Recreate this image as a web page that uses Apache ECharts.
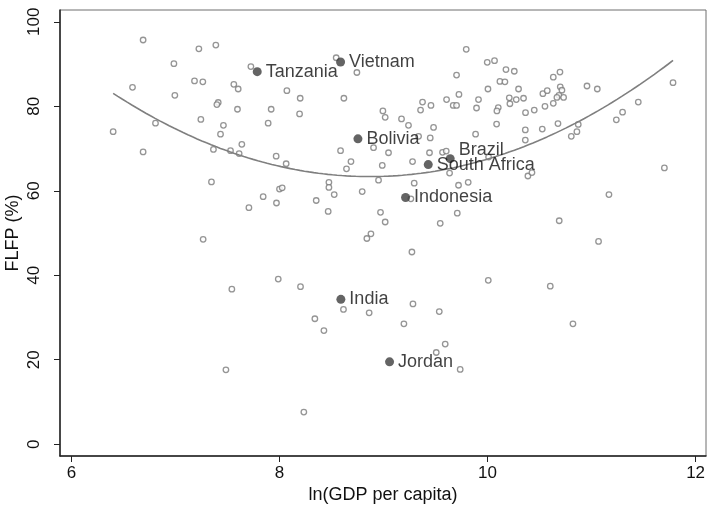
<!DOCTYPE html>
<html>
<head>
<meta charset="utf-8">
<script src="https://cdn.jsdelivr.net/npm/echarts@6/dist/echarts.min.js"></script>
<style>
  html, body { margin: 0; padding: 0; background: #fff; }
  #chart { width: 707px; height: 505px; }
</style>
</head>
<body>
<div id="chart"></div>
<script>
// ln(GDP per capita) and female labour force participation (%) by country
const gdp = [
  6.689, 7.225, 7.388, 6.985, 7.725, 7.183, 7.263, 6.587, 7.561, 7.603,
  6.994, 7.411, 7.398, 7.596, 7.920, 7.244, 6.808, 7.891, 7.461, 6.401,
  7.433, 7.638, 6.689, 7.365, 7.529, 7.612, 7.968, 8.545, 8.744, 9.795,
  9.997, 9.702, 10.004, 8.071, 8.199, 8.619, 8.193, 8.994, 9.016, 9.173,
  9.240, 9.375, 9.356, 9.456, 9.606, 9.725, 9.670, 9.702, 9.913, 9.894,
  9.481, 9.885, 9.337, 9.449, 8.587, 8.904, 9.048, 9.442, 9.567, 9.603,
  8.064, 8.687, 8.644, 8.988, 9.279, 9.635, 10.010, 10.067, 10.177, 10.257,
  10.119, 10.167, 10.298, 10.209, 10.276, 10.346, 10.215, 10.103, 10.090, 10.365,
  10.449, 10.087, 10.363, 10.363, 10.526, 10.677, 10.552, 10.632, 10.532, 10.574,
  10.632, 10.696, 10.699, 10.715, 10.686, 10.667, 10.731, 10.956, 11.055, 10.805,
  10.859, 10.872, 11.238, 11.298, 11.449, 11.783, 11.700, 10.388, 10.427, 7.346,
  7.843, 7.706, 7.971, 8.000, 8.026, 7.266, 7.542, 7.988, 8.475, 8.475,
  8.526, 8.353, 8.468, 8.795, 8.952, 9.295, 9.721, 9.814, 9.263, 8.971,
  9.016, 9.709, 9.545, 8.879, 8.840, 9.273, 8.202, 10.007, 8.615, 8.862,
  9.283, 9.536, 8.340, 8.427, 9.196, 11.167, 10.689, 11.067, 10.603, 10.821,
  7.485, 9.593, 9.507, 9.737, 8.234
];
const flfp = [
  95.7, 93.6, 94.5, 90.1, 89.4, 86.0, 85.8, 84.5, 85.2, 84.1,
  82.6, 80.9, 80.4, 79.3, 79.3, 76.9, 76.0, 76.0, 75.5, 74.0,
  73.4, 71.0, 69.2, 69.8, 69.5, 68.8, 68.2, 91.5, 88.0, 93.5,
  90.4, 87.4, 84.1, 83.7, 81.9, 81.9, 78.2, 78.9, 77.4, 77.0,
  75.5, 81.0, 79.1, 80.2, 81.6, 82.8, 80.2, 80.2, 81.6, 79.6,
  75.0, 73.4, 72.9, 72.5, 69.5, 70.2, 69.0, 69.0, 69.1, 69.4,
  66.4, 66.9, 65.2, 66.0, 66.9, 64.2, 68.0, 90.8, 88.7, 88.3,
  85.9, 85.8, 84.1, 82.0, 81.6, 81.9, 80.6, 79.7, 78.9, 78.5,
  79.1, 75.8, 74.4, 72.0, 74.6, 75.9, 80.0, 80.7, 83.0, 83.7,
  86.9, 88.1, 84.6, 83.8, 82.6, 82.1, 82.1, 84.8, 84.1, 72.9,
  74.0, 75.7, 76.8, 78.6, 81.0, 85.6, 65.4, 63.5, 64.3, 62.1,
  58.6, 56.0, 57.1, 60.4, 60.7, 48.5, 36.7, 39.1, 62.0, 60.8,
  59.1, 57.7, 55.1, 59.8, 62.5, 61.8, 61.3, 62.0, 58.1, 54.9,
  52.6, 54.7, 52.3, 49.8, 48.7, 45.5, 37.3, 38.8, 31.9, 31.1,
  33.2, 31.4, 29.7, 26.9, 28.5, 59.1, 52.9, 48.0, 37.4, 28.5,
  17.6, 23.7, 21.7, 17.7, 7.6
];

// Highlighted countries
const hlNames = ['Tanzania', 'Vietnam', 'Bolivia', 'Brazil', 'South Africa', 'Indonesia', 'India', 'Jordan'];
const hlGdp   = [7.786, 8.587, 8.754, 9.641, 9.430, 9.212, 8.590, 9.058];
const hlFlfp  = [88.2, 90.5, 72.3, 67.6, 66.2, 58.4, 34.3, 19.5];

// Axis ticks
const xTicks = [6, 8, 10, 12];
const yTicks = [0, 20, 40, 60, 80, 100];

// Quadratic least-squares fit of FLFP on ln(GDP per capita)
function quadFit(xs, ys) {
  let S = [0, 0, 0, 0, 0], T = [0, 0, 0];
  for (let i = 0; i < xs.length; i++) {
    const x = xs[i], y = ys[i];
    let p = 1;
    for (let k = 0; k < 5; k++) { S[k] += p; if (k < 3) T[k] += p * y; p *= x; }
  }
  const A = [
    [S[0], S[1], S[2], T[0]],
    [S[1], S[2], S[3], T[1]],
    [S[2], S[3], S[4], T[2]]
  ];
  for (let c = 0; c < 3; c++) {
    let piv = c;
    for (let r = c + 1; r < 3; r++) if (Math.abs(A[r][c]) > Math.abs(A[piv][c])) piv = r;
    [A[c], A[piv]] = [A[piv], A[c]];
    for (let r = 0; r < 3; r++) {
      if (r === c) continue;
      const f = A[r][c] / A[c][c];
      for (let k = c; k < 4; k++) A[r][k] -= f * A[c][k];
    }
  }
  return [A[0][3] / A[0][0], A[1][3] / A[1][1], A[2][3] / A[2][2]];
}

const allX = gdp.concat(hlGdp);
const allY = flfp.concat(hlFlfp);
const coef = quadFit(allX, allY);
const xMin = Math.min(...allX), xMax = Math.max(...allX);
const fitLine = [];
const nSteps = 120;
for (let i = 0; i <= nSteps; i++) {
  const x = xMin + (xMax - xMin) * i / nSteps;
  fitLine.push([x, coef[0] + coef[1] * x + coef[2] * x * x]);
}

const openPts = gdp.map((x, i) => [x, flfp[i]]);
const hlPts = hlNames.map((n, i) => {
  const item = { value: [hlGdp[i], hlFlfp[i]], name: n };
  if (n === 'Brazil') item.label = { offset: [0, -9] };
  return item;
});

const FONT = '"Liberation Sans", Arial, Helvetica, sans-serif';
const chart = echarts.init(document.getElementById('chart'), null, { renderer: 'canvas' });
chart.setOption({
  animation: false,
  backgroundColor: '#ffffff',
  grid: {
    left: 60, right: 1, top: 10, bottom: 49,
    containLabel: false, outerBoundsMode: 'none',
    show: true, borderColor: '#6e6e6e', borderWidth: 1, backgroundColor: '#ffffff'
  },
  xAxis: {
    type: 'value', min: 5.89, max: 12.1,
    name: 'ln(GDP per capita)', nameLocation: 'middle', nameGap: 30,
    nameMoveOverlap: false,
    nameTextStyle: { fontFamily: FONT, fontSize: 18, color: '#111' },
    splitLine: { show: false },
    axisLine: { show: true, onZero: false, lineStyle: { color: '#222', width: 1.5 } },
    axisTick: { show: true, length: 6, customValues: xTicks, lineStyle: { color: '#222' } },
    axisLabel: { customValues: xTicks, margin: 9, fontFamily: FONT, fontSize: 17, color: '#111' }
  },
  yAxis: {
    type: 'value', min: -2.8, max: 102.8,
    name: 'FLFP (%)', nameLocation: 'middle', nameGap: 38, nameRotate: 90,
    nameMoveOverlap: false,
    nameTextStyle: { fontFamily: FONT, fontSize: 18, color: '#111' },
    splitLine: { show: false },
    axisLine: { show: true, onZero: false, lineStyle: { color: '#222', width: 1.5 } },
    axisTick: { show: true, length: 6, customValues: yTicks, lineStyle: { color: '#222' } },
    axisLabel: { customValues: yTicks, rotate: 90, margin: 17, fontFamily: FONT, fontSize: 17, color: '#111' }
  },
  series: [
    {
      type: 'scatter',
      data: openPts,
      symbol: 'circle', symbolSize: 5.5,
      itemStyle: { color: '#ffffff', borderColor: '#7a7a7a', borderWidth: 1.3 },
      z: 2
    },
    {
      type: 'line',
      data: fitLine,
      showSymbol: false, smooth: false,
      lineStyle: { color: '#7f7f7f', width: 1.6 },
      z: 3
    },
    {
      type: 'scatter',
      data: hlPts,
      symbol: 'circle', symbolSize: 9,
      itemStyle: { color: '#3d3d3d' },
      label: {
        show: true, position: 'right', distance: 4,
        formatter: p => p.name,
        fontFamily: FONT, fontSize: 18, color: '#111'
      },
      z: 4
    }
  ]
});
</script>
</body>
</html>
